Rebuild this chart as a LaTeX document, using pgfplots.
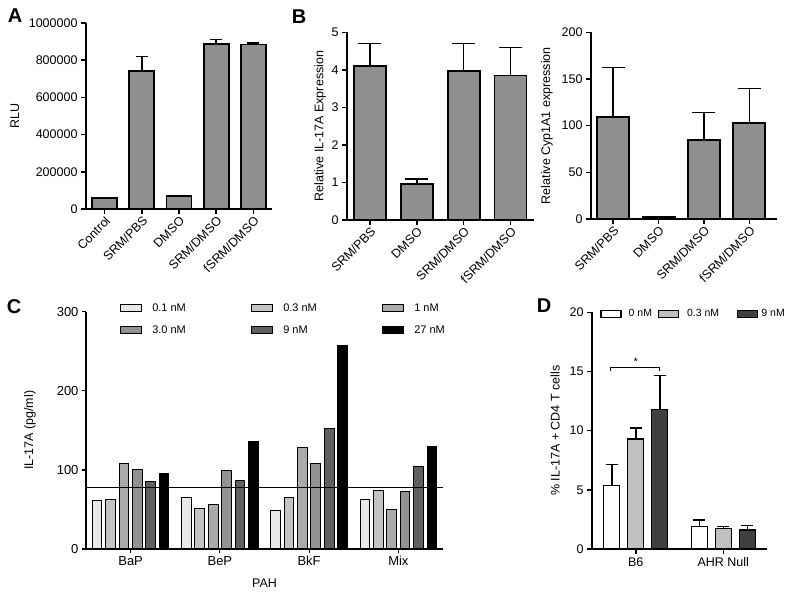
\documentclass[border=0pt]{standalone}
\usepackage{fontspec}
\setmainfont{Liberation Sans}
\usepackage{pgfplots}
\pgfplotsset{compat=1.18}

\definecolor{barg}{HTML}{8F8F8F}
\definecolor{c1}{HTML}{E8E8E8}
\definecolor{c2}{HTML}{C4C4C4}
\definecolor{c3}{HTML}{AAAAAA}
\definecolor{c4}{HTML}{929292}
\definecolor{c5}{HTML}{606060}
\definecolor{d2}{HTML}{C0C0C0}
\definecolor{d3}{HTML}{404040}

\pgfplotsset{
  gp/.style={
    scale only axis, clip=false, axis on top,
    axis lines=left,
    axis line style={-, line width=1.8pt},
    tick style={black, line width=1.5pt},
    tick align=outside, major tick length=5pt,
    minor tick num=0,
    /pgf/number format/assume math mode=true,
    tick label style={font=\fontsize{12.5}{14}\selectfont},
    label style={font=\fontsize{12.5}{14}\selectfont},
    ymin=0,
    error bars/error bar style={line width=1.5pt, black},
  },
  gprot/.style={
    xticklabel style={rotate=45, anchor=north east, inner sep=1pt},
  },
  gpbar/.style={fill=barg, draw=black, line width=1.8pt},
}

\begin{document}
\begin{tikzpicture}
\useasboundingbox (0pt,0pt) rectangle (786pt,595pt);

% ---------- A ----------
\begin{axis}[gp, gprot,
  at={(86pt,386pt)}, anchor=south west,
  width=186pt, height=186pt,
  ybar, bar width=25pt,
  xmin=-0.5, xmax=4.5, ymax=1000000,
  xtick={0,...,4},
  xticklabels={Control,SRM/PBS,DMSO,SRM/DMSO,fSRM/DMSO},
  ytick={0,200000,...,1000000},
  scaled y ticks=false,
  yticklabel style={/pgf/number format/fixed, /pgf/number format/1000 sep={}},
  ylabel={RLU}, ylabel style={at={(axis description cs:-0.382,0.5)}, anchor=center},
  error bars/error mark options={rotate=90, line width=1.5pt, mark size=6pt, black},
]
\addplot[gpbar, error bars/.cd, y dir=plus, y explicit] coordinates {
  (0,59000) +- (0,0)
  (1,742000) +- (0,77000)
  (2,70000) +- (0,0)
  (3,889000) +- (0,21000)
  (4,884000) +- (0,8000)
};
\end{axis}

% ---------- B left ----------
\begin{axis}[gp, gprot,
  at={(347pt,375pt)}, anchor=south west,
  width=187pt, height=187.7pt,
  ybar, bar width=32pt,
  xmin=-0.49, xmax=3.5, ymax=5,
  xtick={0,...,3},
  xticklabels={SRM/PBS,DMSO,SRM/DMSO,fSRM/DMSO},
  ytick={0,1,...,5},
  ylabel={Relative IL-17A Expression},
  ylabel style={at={(axis description cs:-0.144,0.5)}, anchor=center},
  error bars/error mark options={rotate=90, line width=1.5pt, mark size=11.5pt, black},
]
\addplot[gpbar, error bars/.cd, y dir=plus, y explicit] coordinates {
  (0,4.11) +- (0,0.59)
  (1,0.96) +- (0,0.13)
  (2,3.96) +- (0,0.74)
  (3,3.85) +- (0,0.75)
};
\end{axis}

% ---------- B right ----------
\begin{axis}[gp, gprot,
  at={(591pt,376pt)}, anchor=south west,
  width=186pt, height=186.7pt,
  ybar, bar width=32pt,
  xmin=-0.49, xmax=3.61, ymax=200,
  xtick={0,...,3},
  xticklabels={SRM/PBS,DMSO,SRM/DMSO,fSRM/DMSO},
  ytick={0,50,...,200},
  ylabel={Relative Cyp1A1 expression},
  ylabel style={at={(axis description cs:-0.237,0.5)}, anchor=center},
  error bars/error mark options={rotate=90, line width=1.5pt, mark size=11.5pt, black},
]
\addplot[gpbar, error bars/.cd, y dir=plus, y explicit] coordinates {
  (0,109.3) +- (0,53.2)
  (1,2) +- (0,0)
  (2,84.3) +- (0,30)
  (3,102.5) +- (0,37.1)
};
\end{axis}

% ---------- C ----------
\begin{axis}[gp,
  at={(86pt,46pt)}, anchor=south west,
  width=357pt, height=237.3pt,
  axis line style={-, line width=1.3pt},
  tick style={black, line width=1.2pt}, major tick length=4pt,
  tick label style={font=\fontsize{13}{15}\selectfont},
  ybar=3.7pt, bar width=9.7pt,
  xmin=-0.5, xmax=3.5, ymax=300,
  xtick={0,...,3},
  xticklabels={BaP,BeP,BkF,Mix},
  ytick={0,100,200,300},
  ylabel={IL-17A (pg/ml)},
  ylabel style={at={(axis description cs:-0.157,0.5)}, anchor=center},
  xlabel={PAH}, xlabel style={at={(axis description cs:0.5,0)}, anchor=center, yshift=-34pt},
  every axis plot post/.append style={draw=black, line width=1pt,
    legend image code/.code={\draw[##1] (0pt,-3.5pt) rectangle (21pt,3.5pt);}},
  legend columns=3, legend cell align=left,
  legend style={draw=none, fill=none, at={(axis description cs:0.087,0.969)}, anchor=west,
    nodes={inner sep=0pt}, column sep=0pt, row sep=13pt,
    font=\fontsize{11}{12}\selectfont},
]
\addplot[fill=c1] coordinates {(0,61) (1,64.5) (2,49.3) (3,63.2)};
\addlegendentry{\hspace*{10pt}\makebox[99pt][l]{0.1 nM}}
\addplot[fill=c2] coordinates {(0,62.8) (1,51) (2,65.7) (3,73.7)};
\addlegendentry{\hspace*{10pt}\makebox[99pt][l]{0.3 nM}}
\addplot[fill=c3] coordinates {(0,107.5) (1,56) (2,127.7) (3,50.2)};
\addlegendentry{\hspace*{10pt}1 nM}
\addplot[fill=c4] coordinates {(0,101) (1,99.5) (2,107.8) (3,72.5)};
\addlegendentry{\hspace*{10pt}\makebox[99pt][l]{3.0 nM}}
\addplot[fill=c5] coordinates {(0,85.6) (1,86.8) (2,152.6) (3,104)};
\addlegendentry{\hspace*{10pt}\makebox[99pt][l]{9 nM}}
\addplot[fill=black] coordinates {(0,95.2) (1,136) (2,257.9) (3,130)};
\addlegendentry{\hspace*{10pt}27 nM}
\addplot[sharp plot, black, line width=1.3pt, forget plot] coordinates {(-0.5,77.5) (3.5,77.5)};
\end{axis}

% ---------- D ----------
\begin{axis}[gp,
  at={(592pt,46pt)}, anchor=south west,
  width=175pt, height=236.7pt,
  ybar=8pt, bar width=16pt,
  xmin=-0.5, xmax=1.5, ymax=20,
  xtick={0,1},
  xticklabels={B6,AHR Null},
  ytick={0,5,...,20},
  ylabel={\% IL-17A + CD4 T cells},
  ylabel style={at={(axis description cs:-0.211,0.5)}, anchor=center},
  error bars/error mark options={rotate=90, line width=1.5pt, mark size=6pt, black},
  every axis plot post/.append style={draw=black, line width=1.4pt,
    legend image code/.code={\draw[##1] (0pt,-3.5pt) rectangle (20pt,3.5pt);}},
  legend columns=3, legend cell align=left,
  legend style={draw=none, fill=none, at={(axis description cs:0.029,0.993)}, anchor=west,
    nodes={inner sep=0pt}, column sep=0pt,
    font=\fontsize{10.5}{12}\selectfont},
]
\addplot[fill=white, error bars/.cd, y dir=plus, y explicit] coordinates {
  (0,5.35) +- (0,1.78)
  (1,1.92) +- (0,0.51)
};
\addlegendentry{\hspace*{7pt}\makebox[29pt][l]{0 nM}}
\addplot[fill=d2, error bars/.cd, y dir=plus, y explicit] coordinates {
  (0,9.3) +- (0,0.93)
  (1,1.75) +- (0,0.17)
};
\addlegendentry{\hspace*{8pt}\makebox[50pt][l]{0.3 nM}}
\addplot[fill=d3, error bars/.cd, y dir=plus, y explicit] coordinates {
  (0,11.78) +- (0,2.87)
  (1,1.6) +- (0,0.37)
};
\addlegendentry{\hspace*{3pt}9 nM}
\draw[line width=1.2pt] (axis cs:-0.29,15.0) -- (axis cs:-0.29,15.36) -- (axis cs:0.274,15.36) -- (axis cs:0.274,15.0);
\node[anchor=south, inner sep=1pt, font=\fontsize{11}{12}\selectfont] at (axis cs:0,15.4) {*};
\end{axis}

% panel letters
\node[font=\bfseries\fontsize{20}{22}\selectfont] at (15pt,579pt) {A};
\node[font=\bfseries\fontsize{20}{22}\selectfont] at (299pt,578pt) {B};
\node[font=\bfseries\fontsize{20}{22}\selectfont] at (14pt,288pt) {C};
\node[font=\bfseries\fontsize{20}{22}\selectfont] at (544pt,289pt) {D};
\end{tikzpicture}
\end{document}
